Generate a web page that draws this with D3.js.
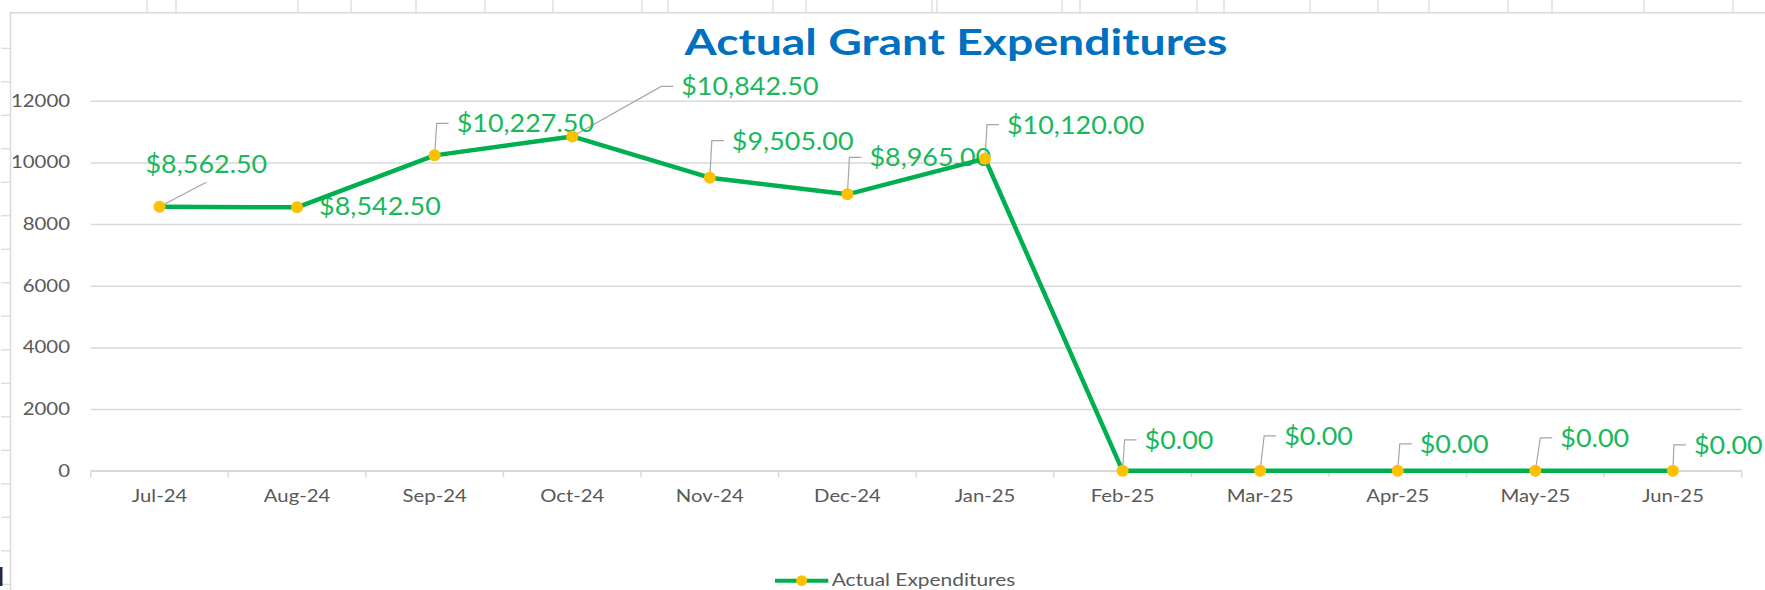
<!DOCTYPE html>
<html>
<head>
<meta charset="utf-8">
<script src="https://cdn.jsdelivr.net/npm/d3@7"></script>
<style>
  body { margin: 0; background: #fff; }
  svg { display: block; }
</style>
</head>
<body>
<div id="chart"></div>
<script>
// chart data
var chartTitle = "Actual Grant Expenditures"
var seriesName = "Actual Expenditures"
var months = ["Jul-24", "Aug-24", "Sep-24", "Oct-24", "Nov-24", "Dec-24",
  "Jan-25", "Feb-25", "Mar-25", "Apr-25", "May-25", "Jun-25"]
var expenditures = [8562.50, 8542.50, 10227.50, 10842.50, 9505.00, 8965.00,
  10120.00, 0, 0, 0, 0, 0]
var yTicks = [0, 2000, 4000, 6000, 8000, 10000, 12000]

// where each data label was dragged to, relative to its point (px)
var labelShift = [[-14, -34], [22, 8], [22, -23], [109, -41], [22, -28], [22, -28],
  [22, -25], [22, -22], [24, -26], [22, -18], [25, -24], [21, -17]]

var W = 1765, H = 590
var plot = { left: 90.7, right: 1741.7, top: 100.7, bottom: 470.8 }
// the original picture is stretched sideways a bit
var SX = { title: 1.27, label: 1.09, yax: 1.25, xax: 1.16, legend: 1.23 }

var green = "#00B050", labelGreen = "#19B85A", gold = "#FFC000",
  grey = "#595959", light = "#D9D9D9"

var svg = d3.select("#chart")
  .append("svg")
  .attr("width", W)
  .attr("height", H)

// spreadsheet cell borders showing round the chart
var sheetCols = [147, 176, 298, 351, 416, 485, 553, 642, 668, 773, 806, 932, 937,
  1062, 1080, 1197, 1224, 1310, 1378, 1429, 1508, 1552, 1644, 1733]
svg.append("g").selectAll("line")
  .data(sheetCols)
  .enter().append("line")
  .attr("x1", function (d) { return d }).attr("x2", function (d) { return d })
  .attr("y1", 0).attr("y2", 12.7)
  .attr("stroke", light).attr("stroke-width", 1.2)
svg.append("g").selectAll("line")
  .data(d3.range(1, 18))
  .enter().append("line")
  .attr("x1", 1).attr("x2", 10)
  .attr("y1", function (k) { return 14.8 + 33.5 * k })
  .attr("y2", function (k) { return 14.8 + 33.5 * k })
  .attr("stroke", light).attr("stroke-width", 1.2)
svg.append("path")
  .attr("d", "M10.5,590V12.7H" + W)
  .attr("fill", "none").attr("stroke", light).attr("stroke-width", 1.5)
svg.append("rect")
  .attr("x", 0).attr("y", 567).attr("width", 2.5).attr("height", 19)
  .attr("fill", "#1F2A44")

function stretched(sel, x, y, sx) {
  return sel.attr("transform", "translate(" + x + "," + y + ") scale(" + sx + ",1)")
}

// scales
var x = d3.scaleBand()
  .domain(months)
  .range([plot.left, plot.right])
var y = d3.scaleLinear()
  .domain([0, 12000])
  .range([plot.bottom, plot.top])
function px(m) { return x(m) + x.bandwidth() / 2 }

// gridlines
var grid = svg.append("g")
  .attr("transform", "translate(" + plot.left + ",0)")
  .call(d3.axisLeft(y).tickValues(yTicks).tickSize(-(plot.right - plot.left)).tickFormat(""))
grid.select(".domain").remove()
grid.selectAll("line").attr("stroke", light).attr("stroke-width", 1.5)

// y labels
svg.append("g").selectAll("text")
  .data(yTicks)
  .enter().append("text")
  .each(function (d) { stretched(d3.select(this), 70, y(d) + 6, SX.yax) })
  .attr("text-anchor", "end")
  .attr("font-family", "Lato, sans-serif")
  .attr("font-size", 16.3)
  .attr("fill", grey)
  .text(function (d) { return d })

// x axis: line, ticks between categories, labels
svg.append("line")
  .attr("x1", plot.left).attr("x2", plot.right)
  .attr("y1", plot.bottom).attr("y2", plot.bottom)
  .attr("stroke", light).attr("stroke-width", 1.5)
svg.append("g").selectAll("line")
  .data(d3.range(months.length + 1))
  .enter().append("line")
  .attr("x1", function (i) { return plot.left + i * x.step() })
  .attr("x2", function (i) { return plot.left + i * x.step() })
  .attr("y1", plot.bottom).attr("y2", plot.bottom + 6.5)
  .attr("stroke", light).attr("stroke-width", 1.5)
svg.append("g").selectAll("text")
  .data(months)
  .enter().append("text")
  .each(function (d) { stretched(d3.select(this), px(d), 502.3, SX.xax) })
  .attr("text-anchor", "middle")
  .attr("font-family", "Lato, sans-serif")
  .attr("font-size", 17.5)
  .attr("fill", grey)
  .text(function (d) { return d })

// title
stretched(svg.append("text"), 956, 55, SX.title)
  .attr("text-anchor", "middle")
  .attr("font-family", "Lato, sans-serif")
  .attr("font-weight", "bold")
  .attr("font-size", 36.5)
  .attr("fill", "#0070C0")
  .text(chartTitle)

var pts = months.map(function (m, i) {
  return { m: m, v: expenditures[i], x: px(m), y: y(expenditures[i]),
    lx: px(m) + labelShift[i][0], ly: y(expenditures[i]) + labelShift[i][1] }
})
var money = d3.format("$,.2f")

// data labels (text first, so leader lines can use their width)
var leaders = svg.append("g")
var labels = svg.append("g").selectAll("text")
  .data(pts)
  .enter().append("text")
  .each(function (d) { stretched(d3.select(this), d.lx, d.ly, SX.label) })
  .attr("font-family", "Lato, sans-serif")
  .attr("font-size", 24.7)
  .attr("fill", labelGreen)
  .text(function (d) { return money(d.v) })
  .each(function (d) { d.w = this.getComputedTextLength() * SX.label })

leaders.selectAll("path")
  .data(pts.filter(function (d) { return d.ly < d.y - 10 }))
  .enter().append("path")
  .attr("d", function (d) {
    if (d.lx < d.x) return "M" + d.x + "," + d.y + "L" + (d.lx + d.w / 2) + "," + (d.ly + 9.6)
    var ey = d.ly - 9
    return "M" + d.x + "," + d.y + "L" + (d.lx - 20) + "," + ey + "H" + (d.lx - 8)
  })
  .attr("fill", "none")
  .attr("stroke", "#A6A6A6")
  .attr("stroke-width", 1.2)

// the series
var line = d3.line()
  .x(function (d) { return d.x })
  .y(function (d) { return d.y })
svg.append("path")
  .datum(pts)
  .attr("d", line)
  .attr("fill", "none")
  .attr("stroke", green)
  .attr("stroke-width", 4.5)
  .attr("stroke-linejoin", "round")
svg.append("g").selectAll("circle")
  .data(pts)
  .enter().append("circle")
  .attr("cx", function (d) { return d.x })
  .attr("cy", function (d) { return d.y })
  .attr("r", 6)
  .attr("fill", gold)

// legend
var lg = svg.append("g")
lg.append("line")
  .attr("x1", 775).attr("x2", 828.3).attr("y1", 580.7).attr("y2", 580.7)
  .attr("stroke", green).attr("stroke-width", 4)
lg.append("circle")
  .attr("cx", 801.7).attr("cy", 580.7).attr("r", 5.5).attr("fill", gold)
stretched(lg.append("text"), 831.7, 585.7, SX.legend)
  .attr("font-family", "Lato, sans-serif")
  .attr("font-size", 17)
  .attr("fill", grey)
  .text(seriesName)
</script>
</body>
</html>
